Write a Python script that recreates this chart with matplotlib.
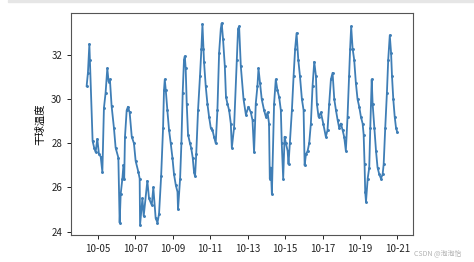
import matplotlib
matplotlib.use("Agg")
import matplotlib.pyplot as plt
import matplotlib.dates as mdates
import pandas as pd

plt.rcParams['font.family'] = ['Noto Sans CJK SC', 'DejaVu Sans']
plt.rcParams['axes.unicode_minus'] = False

times = [
    "10-04 09:30", "10-04 11:10", "10-04 13:00", "10-04 13:40", "10-04 17:10", "10-04 19:10",
    "10-04 21:00", "10-04 23:10", "10-05 01:20", "10-05 03:30", "10-05 05:40", "10-05 07:40",
    "10-05 09:50", "10-05 12:00", "10-05 13:40", "10-05 15:20", "10-05 17:30", "10-05 20:30",
    "10-05 22:40", "10-06 02:10", "10-06 03:50", "10-06 05:10", "10-06 07:20", "10-06 08:40",
    "10-06 09:40", "10-06 10:40", "10-06 12:50", "10-06 14:30", "10-06 16:40", "10-06 19:20",
    "10-06 22:10", "10-07 00:20", "10-07 03:50", "10-07 05:30", "10-07 06:00", "10-07 09:00",
    "10-07 10:40", "10-07 15:20", "10-07 17:30", "10-07 21:00", "10-07 23:00", "10-08 02:00",
    "10-08 04:20", "10-08 06:20", "10-08 09:00", "10-08 11:30", "10-08 12:40", "10-08 13:40",
    "10-08 15:00", "10-08 17:00", "10-08 19:10", "10-08 21:20", "10-08 23:30", "10-09 01:30",
    "10-09 03:50", "10-09 06:00", "10-09 06:40", "10-09 09:20", "10-09 11:00", "10-09 12:40",
    "10-09 14:20", "10-09 15:20", "10-09 16:30", "10-09 17:50", "10-09 19:30", "10-09 22:00",
    "10-09 23:30", "10-10 01:30", "10-10 03:10", "10-10 04:30", "10-10 06:00", "10-10 08:20",
    "10-10 10:50", "10-10 12:40", "10-10 14:00", "10-10 15:20", "10-10 16:00", "10-10 18:10",
    "10-10 20:20", "10-10 22:30", "10-11 00:40", "10-11 02:50", "10-11 04:50", "10-11 07:00",
    "10-11 09:10", "10-11 11:20", "10-11 13:30", "10-11 14:40", "10-11 16:20", "10-11 18:40",
    "10-11 20:10", "10-11 22:00", "10-12 00:10", "10-12 02:20", "10-12 03:40", "10-12 06:30",
    "10-12 10:00", "10-12 11:40", "10-12 13:00", "10-12 15:10", "10-12 18:40", "10-12 21:40",
    "10-13 01:00", "10-13 04:00", "10-13 06:10", "10-13 08:10", "10-13 10:20", "10-13 12:30",
    "10-13 13:50", "10-13 15:50", "10-13 18:00", "10-13 21:00", "10-13 23:20", "10-14 01:30",
    "10-14 03:20", "10-14 04:20", "10-14 05:40", "10-14 07:00", "10-14 09:50", "10-14 12:00",
    "10-14 14:10", "10-14 16:20", "10-14 18:30", "10-14 19:40", "10-14 21:30", "10-14 23:20",
    "10-15 01:00", "10-15 03:10", "10-15 04:20", "10-15 06:00", "10-15 08:40", "10-15 10:50",
    "10-15 12:50", "10-15 14:40", "10-15 16:50", "10-15 19:00", "10-15 21:30", "10-15 23:40",
    "10-16 01:00", "10-16 02:40", "10-16 04:50", "10-16 06:50", "10-16 09:00", "10-16 11:10",
    "10-16 13:20", "10-16 15:30", "10-16 16:40", "10-16 18:50", "10-16 21:50", "10-17 00:50",
    "10-17 04:10", "10-17 06:20", "10-17 08:30", "10-17 10:40", "10-17 12:50", "10-17 15:00",
    "10-17 17:10", "10-17 19:20", "10-17 21:20", "10-17 23:30", "10-18 01:40", "10-18 03:40",
    "10-18 05:50", "10-18 08:00", "10-18 10:00", "10-18 11:20", "10-18 12:40", "10-18 14:30",
    "10-18 16:30", "10-18 18:40", "10-18 20:50", "10-18 23:00", "10-19 01:10", "10-19 03:20",
    "10-19 04:40", "10-19 05:50", "10-19 06:40", "10-19 07:40", "10-19 09:50", "10-19 11:50",
    "10-19 13:10", "10-19 15:00", "10-19 16:10", "10-19 18:20", "10-19 20:30", "10-19 22:30",
    "10-20 00:40", "10-20 02:50", "10-20 05:00", "10-20 06:20", "10-20 08:20", "10-20 10:30",
    "10-20 12:10", "10-20 14:10", "10-20 15:50", "10-20 17:00", "10-20 18:40", "10-20 20:30",
    "10-20 22:10", "10-20 23:50",
]

temps = [
    30.6, 31.2, 32.5, 31.8, 28.1, 27.8,
    27.6, 28.2, 27.5, 27.4, 26.7, 29.6,
    30.3, 31.4, 30.8, 30.9, 29.7, 28.7,
    27.8, 27.35, 24.4, 25.7, 26.4, 27.0,
    26.4, 28.3, 29.5, 29.66, 29.4, 28.3,
    28.0, 27.2, 26.7, 26.4, 24.3, 25.5,
    24.7, 26.3, 25.5, 25.2, 26.0, 24.6,
    24.4, 24.8, 26.5, 28.7, 30.4, 30.9,
    30.4, 29.5, 28.6, 28.0, 27.35, 26.6,
    26.1, 25.8, 25.0, 26.4, 28.0, 30.3,
    31.8, 31.95, 31.4, 29.8, 28.4, 28.0,
    27.8, 27.35, 26.7, 26.5, 27.5, 29.5,
    31.05, 32.3, 33.4, 32.3, 31.7, 30.6,
    29.8, 29.2, 28.7, 28.6, 28.3, 28.0,
    29.5, 32.1, 33.2, 33.45, 32.75, 31.5,
    30.1, 29.8, 29.5, 28.9, 27.8, 28.7,
    31.8, 33.2, 33.3, 31.5, 30.0, 29.3,
    29.66, 29.4, 29.05, 27.6, 29.8, 30.6,
    31.4, 30.75, 30.0, 29.5, 29.2, 29.4,
    28.9, 26.4, 26.9, 25.7, 29.8, 30.9,
    30.4, 30.1, 29.5, 28.0, 26.4, 28.3,
    28.0, 27.66, 27.05, 28.0, 29.5, 31.05,
    32.3, 33.0, 31.8, 31.05, 30.0, 29.5,
    27.0, 27.5, 27.66, 28.0, 28.9, 30.6,
    31.7, 31.05, 29.8, 29.2, 29.4, 28.9,
    28.3, 28.6, 29.8, 30.9, 31.2, 30.0,
    29.5, 29.05, 28.7, 28.9, 28.6, 28.3,
    27.66, 29.2, 31.05, 32.3, 33.3, 32.3,
    31.8, 30.75, 30.0, 29.66, 29.2, 28.9,
    28.4, 27.05, 25.8, 25.35, 26.4, 26.9,
    28.7, 30.9, 29.8, 28.7, 27.66, 26.9,
    26.6, 26.4, 26.6, 27.05, 28.7, 30.3,
    31.8, 32.9, 32.1, 31.05, 30.0, 29.2,
    28.7, 28.5,
]

y_label = "干球温度"
y_ticks = [24, 26, 28, 30, 32]
watermark = "CSDN @泡泡怡"

dt = pd.to_datetime(["2021-" + t for t in times], format="%Y-%m-%d %H:%M")

fig = plt.figure(figsize=(4.74, 2.62), dpi=100)
fig.patches.append(plt.Rectangle((8 / 474, 1 - 2 / 262), 1, 2 / 262,
                                 transform=fig.transFigure, color="#e6e6e6", zorder=0))
ax = fig.add_axes([0.150, 0.103, 0.721, 0.847])
ax.plot(dt, temps, color="#3f7eb6", lw=1.3, marker=".", ms=2.2)

ax.xaxis.set_major_locator(mdates.DayLocator(bymonthday=[5, 7, 9, 11, 13, 15, 17, 19, 21]))
ax.xaxis.set_major_formatter(mdates.DateFormatter("%m-%d"))
ax.set_yticks(y_ticks)
ax.tick_params(labelsize=7, length=3, width=0.7, colors="#222222")
for s in ax.spines.values():
    s.set_color("#555555")
    s.set_linewidth(0.8)
ax.set_ylabel(y_label, fontsize=7.5, labelpad=4)

fig.text(0.873, 0.027, watermark, fontsize=5, color="#b0b0b0")

fig.savefig("out.png", dpi=100)
